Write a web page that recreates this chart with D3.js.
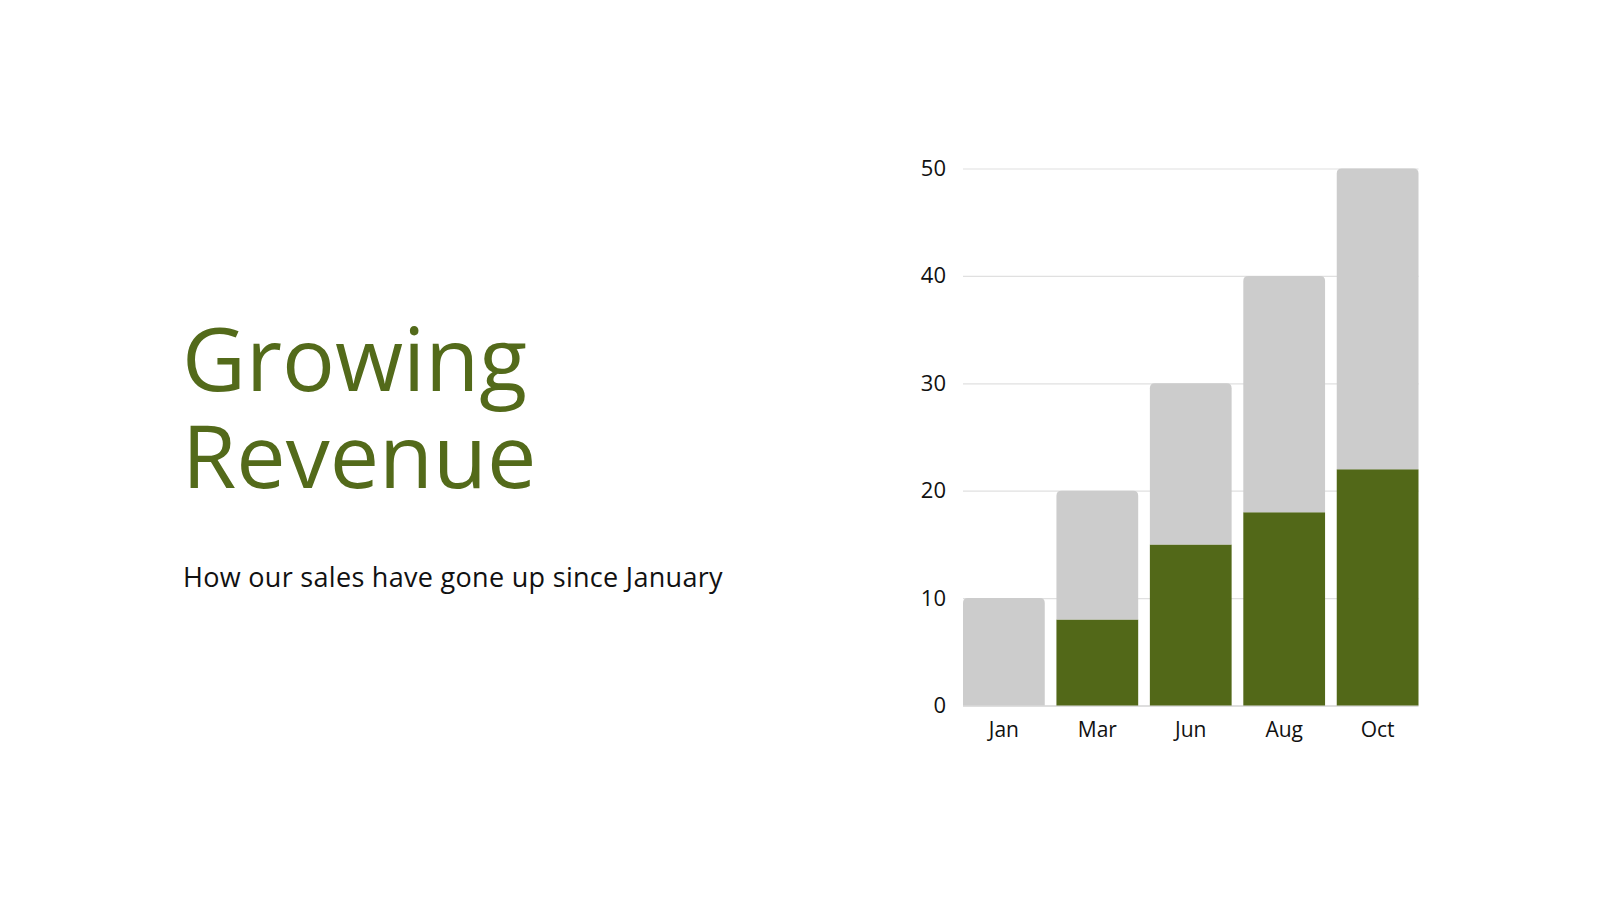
<!DOCTYPE html>
<html>
<head>
<meta charset="utf-8">
<script src="https://cdn.jsdelivr.net/npm/d3@7"></script>
<style>
  html, body { margin: 0; padding: 0; background: #fff; }
  svg { display: block; }
  .title { font-family: 'Open Sans', sans-serif; fill: #536a1a; }
  .subtitle { font-family: 'Open Sans', sans-serif; fill: #111; }
  .axis text { font-family: 'Open Sans', sans-serif; fill: #111; }
</style>
</head>
<body>
<svg id="chart" width="1600" height="900"></svg>
<script>
// chart data
const months = ['Jan', 'Mar', 'Jun', 'Aug', 'Oct'];
const sales = [0, 8, 15, 18, 22];        // green part
const remaining = [10, 12, 15, 22, 28];  // grey part on top
const yTicks = [0, 10, 20, 30, 40, 50];

const titleLines = ['Growing', 'Revenue'];
const subtitle = 'How our sales have gone up since January';

const svg = d3.select('#chart');

const plot = { left: 963, right: 1418.5, top: 168.5, bottom: 705.5 };

const rows = months.map((m, i) => ({ month: m, sales: sales[i], remaining: remaining[i] }));
const stacked = d3.stack().keys(['sales', 'remaining'])(rows);

const xScale = d3.scaleBand()
  .domain(months)
  .range([plot.left, plot.right])
  .paddingInner(0.125)
  .paddingOuter(0);

const yScale = d3.scaleLinear()
  .domain([0, 50])
  .range([plot.bottom, plot.top]);

// title block, one text with a tspan per line
svg.append('text')
  .attr('class', 'title')
  .style('font-size', '88px')
  .selectAll('tspan')
  .data(titleLines)
  .join('tspan')
    .attr('x', 182)
    .attr('y', (d, i) => 391 + i * 97)
    .text(d => d);

svg.append('text')
  .attr('class', 'subtitle')
  .attr('x', 183)
  .attr('y', 587)
  .style('font-size', '27px')
  .style('letter-spacing', '0.3px')
  .text(subtitle);

// gridlines
const grid = svg.append('g')
  .attr('transform', `translate(${plot.left},0)`)
  .call(d3.axisLeft(yScale)
    .tickValues(yTicks)
    .tickSize(-(plot.right - plot.left))
    .tickFormat(''));
grid.select('.domain').remove();
grid.selectAll('line')
  .attr('stroke', d => d === 0 ? '#bdbdbd' : '#e0e0e0')
  .attr('stroke-width', 1.2);

// bars
function roundTop(x, y, w, h, r) {
  r = Math.min(r, h, w / 2);
  return `M${x},${y + h}V${y + r}Q${x},${y} ${x + r},${y}H${x + w - r}Q${x + w},${y} ${x + w},${y + r}V${y + h}Z`;
}

const colors = { sales: '#526818', remaining: '#cccccc' };

svg.append('g')
  .selectAll('g')
  .data(stacked)
  .join('g')
    .attr('fill', d => colors[d.key])
  .selectAll('path')
  .data(d => d.map(p => Object.assign({ key: d.key }, p)))
  .join('path')
    .attr('d', d => {
      const x = xScale(d.data.month);
      const y = yScale(d[1]);
      const h = yScale(d[0]) - yScale(d[1]);
      if (h <= 0) return null;
      return roundTop(x, y, xScale.bandwidth(), h, d.key === 'remaining' ? 5 : 0);
    });

// axes
const yAxis = svg.append('g')
  .attr('class', 'axis')
  .attr('transform', `translate(${plot.left},0)`)
  .call(d3.axisLeft(yScale).tickValues(yTicks).tickSize(0).tickPadding(17));
yAxis.select('.domain').remove();
yAxis.selectAll('text').style('font-size', '22px');

const xAxis = svg.append('g')
  .attr('class', 'axis')
  .attr('transform', `translate(0,${plot.bottom})`)
  .call(d3.axisBottom(xScale).tickSize(0).tickPadding(17));
xAxis.select('.domain').remove();
xAxis.selectAll('text').style('font-size', '21px');
</script>
</body>
</html>
